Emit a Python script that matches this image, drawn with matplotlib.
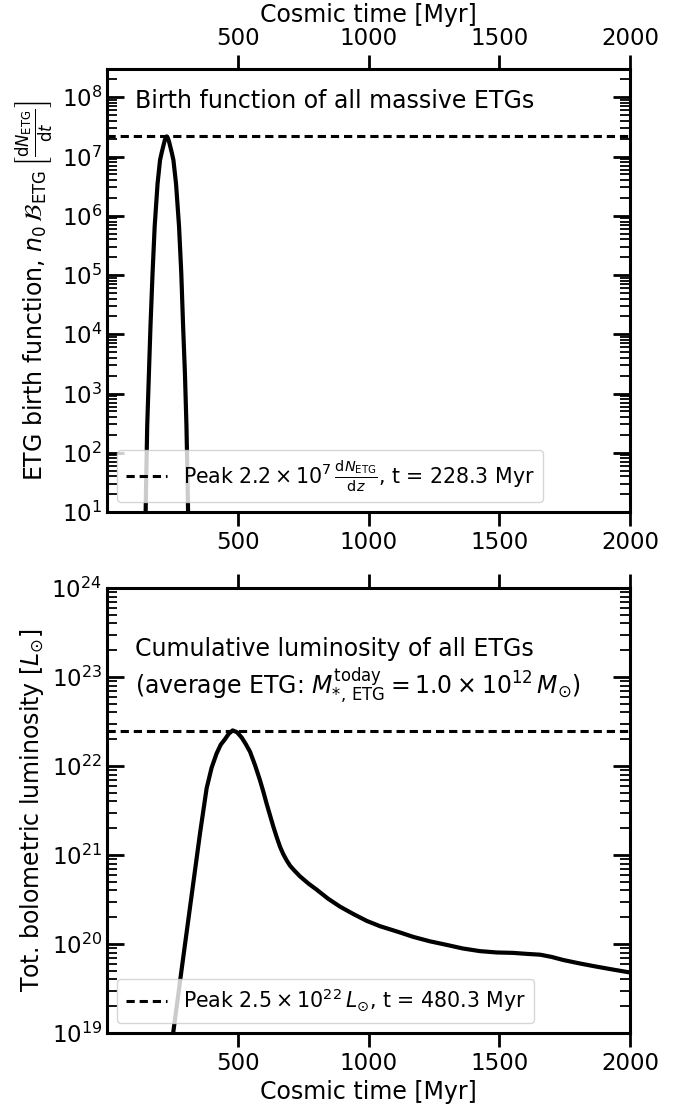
import numpy as np
import matplotlib
matplotlib.use("Agg")
import matplotlib.pyplot as plt
from matplotlib.ticker import LogLocator, NullFormatter

plt.rcParams["mathtext.fontset"] = "dejavusans"

# ---- data ----
# birth function of massive ETGs (cosmic time in Myr, log10 of n0*B*dN/dt)
birth_t = [147.3, 150.3, 153.8, 160.3, 166.3, 174.3, 182.3, 193.3, 202.8, 208.3, 213.3, 218.3,
           221.3, 224.3, 226.3, 228.3, 230.3, 232.3, 235.3, 238.5, 243.5, 248.5, 254.0, 264.0,
           275.5, 284.0, 291.0, 298.0, 303.8, 307.5, 310.5]
birth_log = [0.89, 1.64, 2.46, 3.34, 4.14, 5.04, 5.82, 6.54, 6.94, 7.05, 7.14, 7.23,
             7.28, 7.315, 7.333, 7.34, 7.333, 7.315, 7.28, 7.23, 7.14, 7.05, 6.94, 6.54,
             5.82, 5.04, 4.14, 3.34, 2.46, 1.64, 0.89]
birth_peak = 2.2e7
birth_peak_t = 228.3

# cumulative luminosity of all ETGs (log10 L / Lsun)
lum_t = [245, 253, 287, 321, 356, 381, 400, 419, 435, 451, 465, 480.3, 497, 515, 530, 547,
         566, 585, 598, 611, 623, 636, 649, 662, 674, 687, 700, 715, 738, 770, 802, 845, 891,
         940, 993, 1044, 1120, 1171, 1235, 1299, 1360, 1426, 1490, 1554, 1600, 1656, 1700,
         1745, 1810, 1873, 1940, 2000]
lum_log = [18.80, 19.00, 19.75, 20.49, 21.25, 21.75, 21.98, 22.14, 22.24, 22.30, 22.36, 22.40,
           22.38, 22.32, 22.25, 22.16, 22.01, 21.84, 21.71, 21.57, 21.45, 21.32, 21.20, 21.09,
           21.01, 20.94, 20.88, 20.83, 20.76, 20.68, 20.61, 20.51, 20.42, 20.34, 20.26, 20.20,
           20.13, 20.08, 20.03, 19.99, 19.95, 19.92, 19.905, 19.90, 19.89, 19.88, 19.855,
           19.82, 19.78, 19.745, 19.71, 19.68]
lum_peak = 2.5e22
lum_peak_t = 480.3

xticks = [500, 1000, 1500, 2000]

FS = 17
TFS = 16.5
LFS = 14.8
W, H = 692, 1110
fig = plt.figure(figsize=(W / 100, H / 100), dpi=100)
ax1 = fig.add_axes([107 / W, 1 - 512 / H, 523 / W, 443 / H])
ax2 = fig.add_axes([107 / W, 1 - 1033 / H, 523 / W, 445 / H])

ax1.plot(birth_t, 10 ** np.array(birth_log), color="k", lw=3, zorder=3)
ax1.axhline(birth_peak, color="k", lw=2.2, ls=(0, (2.7, 1.6)), zorder=2,
            label=r"Peak $2.2\times10^{7}\,\frac{\mathrm{d}N_{\rm ETG}}{\mathrm{d}z}$, t = %.1f Myr" % birth_peak_t)
ax1.set_ylim(10, 3e8)
ax1.text(0.054, 0.912, "Birth function of all massive ETGs", transform=ax1.transAxes,
         fontsize=FS, va="baseline", ha="left")
ax1.set_ylabel(r"ETG birth function, $n_0\,\mathcal{B}_{\rm ETG}\,\left[\frac{\mathrm{d}N_{\rm ETG}}{\mathrm{d}t}\right]$",
               fontsize=FS)
ax1.set_xlabel("Cosmic time [Myr]", fontsize=FS)
ax1.xaxis.set_label_position("top")

ax2.plot(lum_t, 10 ** np.array(lum_log), color="k", lw=3, zorder=3)
ax2.axhline(lum_peak, color="k", lw=2.2, ls=(0, (2.7, 1.6)), zorder=2,
            label=r"Peak $2.5\times10^{22}\,L_{\odot}$, t = %.1f Myr" % lum_peak_t)
ax2.set_ylim(1e19, 1e24)
ax2.text(0.054, 0.847, "Cumulative luminosity of all ETGs", transform=ax2.transAxes,
         fontsize=FS, va="baseline", ha="left")
ax2.text(0.054, 0.764, r"(average ETG: $M_{*,\,{\rm ETG}}^{\rm today} = 1.0\times10^{12}\,M_{\odot}$)",
         transform=ax2.transAxes, fontsize=FS, va="baseline", ha="left")
ax2.set_ylabel(r"Tot. bolometric luminosity [$L_{\odot}$]", fontsize=FS)
ax2.set_xlabel("Cosmic time [Myr]", fontsize=FS)

for ax in (ax1, ax2):
    ax.set_yscale("log")
    ax.set_xlim(0, 2000)
    ax.set_xticks(xticks)
    ax.yaxis.set_major_locator(LogLocator(base=10, numticks=30))
    ax.yaxis.set_minor_locator(LogLocator(base=10, subs=np.arange(2, 10), numticks=30))
    ax.yaxis.set_minor_formatter(NullFormatter())
    ax.tick_params(axis="x", which="major", direction="out", top=True, bottom=True,
                   length=10, width=2, labelsize=TFS)
    ax.tick_params(axis="y", which="major", direction="in", left=True, right=True,
                   length=12, width=2, labelsize=TFS)
    ax.tick_params(axis="y", which="minor", direction="in", left=True, right=True,
                   length=7, width=1.3)
    for s in ax.spines.values():
        s.set_linewidth(2.2)
    ax.legend(loc="lower left", fontsize=LFS, handlelength=2.0)

ax1.tick_params(axis="x", labeltop=True, labelbottom=True)

fig.savefig("out.png", dpi=100)
